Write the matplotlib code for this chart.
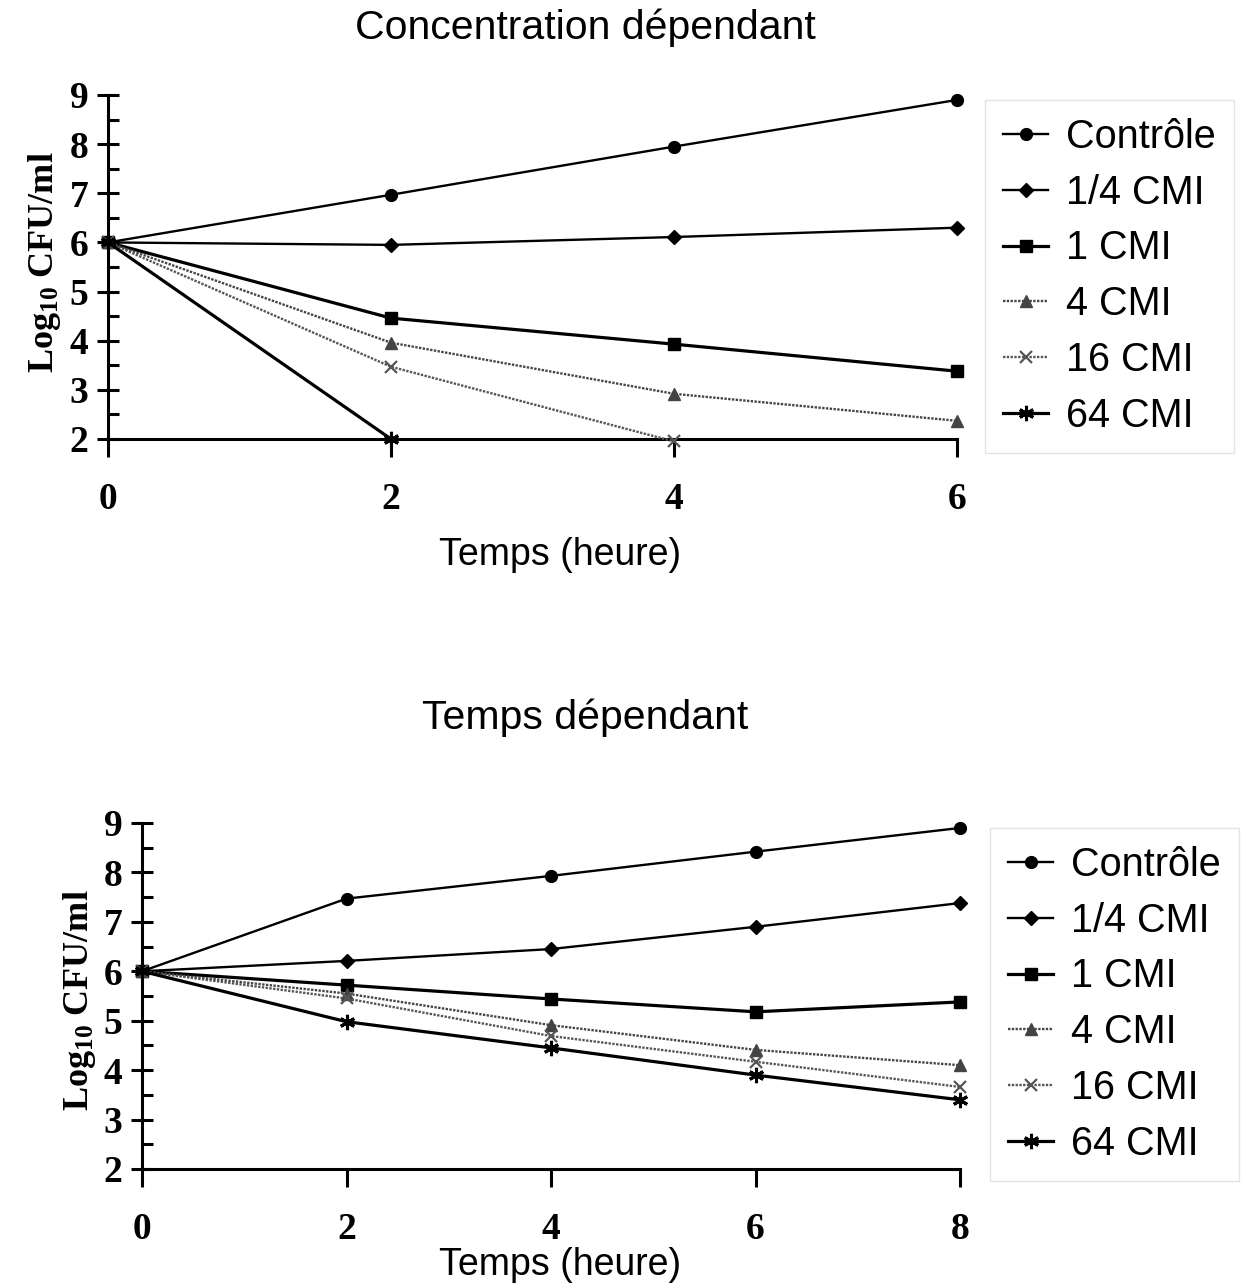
import numpy as np
import matplotlib.pyplot as plt

plt.rcParams['mathtext.default'] = 'regular'

labels = ["Contrôle", "1/4 CMI", "1 CMI", "4 CMI", "16 CMI", "64 CMI"]

# concentration dependant
t_conc = [0, 2, 4, 6]
conc_ctrl = [6.0, 6.97, 7.95, 8.9]
conc_q = [6.0, 5.95, 6.11, 6.3]
conc_1 = [6.0, 4.46, 3.93, 3.38]
conc_4 = [6.0, 3.96, 2.92, 2.37]
conc_16 = [6.0, 3.47, 1.95]
conc_64 = [6.0, 2.0]

# temps dependant
t_time = [0, 2, 4, 6, 8]
time_ctrl = [6.0, 7.47, 7.93, 8.42, 8.9]
time_q = [6.0, 6.21, 6.45, 6.9, 7.38]
time_1 = [6.0, 5.72, 5.44, 5.18, 5.38]
time_4 = [6.0, 5.55, 4.91, 4.41, 4.1]
time_16 = [6.0, 5.45, 4.69, 4.17, 3.66]
time_64 = [6.0, 4.98, 4.45, 3.9, 3.4]

styles = [
    dict(marker='o', ms=8.5, color='black', lw=1.7, ls='-'),
    dict(marker='D', ms=7, color='black', lw=1.7, ls='-'),
    dict(marker='s', ms=9, color='black', lw=2.3, ls='-'),
    dict(marker='^', ms=8, color='#444444', lw=1.7, ls=(0, (1, 0.6))),
    dict(marker='x', ms=9, color='#555555', lw=1.7, ls=(0, (1, 0.6)), mew=1.6),
    dict(marker=(6, 2, 0), ms=11, color='black', lw=2.3, ls='-', mew=2.2),
]

serif = 'Liberation Serif'
sans = 'Liberation Sans'

fig = plt.figure(figsize=(12.48, 12.85), dpi=100)


def setup(ax, xmax, xticks):
    ax.set_xlim(0, xmax)
    ax.set_ylim(2, 9)
    for s in ['top', 'right']:
        ax.spines[s].set_visible(False)
    for s in ['left', 'bottom']:
        ax.spines[s].set_linewidth(2.2)
    ax.set_xticks(xticks)
    ax.set_yticks(range(2, 10))
    ax.set_yticks(np.arange(2.5, 9, 1.0), minor=True)
    ax.tick_params(axis='y', which='major', direction='inout', length=16, width=2.2, pad=6)
    ax.tick_params(axis='y', which='minor', direction='in', length=8, width=2.2)
    ax.tick_params(axis='x', which='major', direction='out', length=13, width=2.2, pad=18)
    for lab in ax.get_xticklabels() + ax.get_yticklabels():
        lab.set_fontfamily(serif)
        lab.set_fontweight('bold')
        lab.set_fontsize(27)
    ax.set_facecolor('none')


def draw(ax, t, series):
    for vals, st, lab in zip(series, styles, labels):
        ax.plot(t[:len(vals)], vals, label=lab, clip_on=False, zorder=3, **st)


leg_kw = dict(loc='upper left', bbox_transform=fig.transFigure, prop={'family': sans, 'size': 28.5},
              frameon=True, fancybox=False, edgecolor='#dddddd', handlelength=1.15,
              handletextpad=0.45, labelspacing=0.45, borderpad=0.45, borderaxespad=0)

# top chart
ax1 = fig.add_axes([108 / 1248, 1 - 439 / 1285, (957 - 108) / 1248, (439 - 95) / 1285])
draw(ax1, t_conc, [conc_ctrl, conc_q, conc_1, conc_4, conc_16, conc_64])
setup(ax1, 6, [0, 2, 4, 6])
fig.text(585 / 1248, 1 - 28 / 1285, "Concentration dépendant", ha='center', va='center',
         family=sans, fontsize=29.5)
fig.text(560 / 1248, 1 - 555 / 1285, "Temps (heure)", ha='center', va='center',
         family=sans, fontsize=27)
fig.text(45 / 1248, 1 - 262 / 1285, "Log$_{10}$ CFU/ml", rotation=90, ha='center', va='center',
         family=serif, fontweight='bold', fontsize=26)
ax1.legend(bbox_to_anchor=(985 / 1248, 1 - 100 / 1285), **leg_kw)

# bottom chart
ax2 = fig.add_axes([142 / 1248, 1 - 1169 / 1285, (960 - 142) / 1248, (1169 - 823) / 1285])
draw(ax2, t_time, [time_ctrl, time_q, time_1, time_4, time_16, time_64])
setup(ax2, 8, [0, 2, 4, 6, 8])
fig.text(585 / 1248, 1 - 718 / 1285, "Temps dépendant", ha='center', va='center',
         family=sans, fontsize=29.5)
fig.text(560 / 1248, 1 - 1265 / 1285, "Temps (heure)", ha='center', va='center',
         family=sans, fontsize=27)
fig.text(80 / 1248, 1 - 1000 / 1285, "Log$_{10}$ CFU/ml", rotation=90, ha='center', va='center',
         family=serif, fontweight='bold', fontsize=26)
ax2.legend(bbox_to_anchor=(990 / 1248, 1 - 828 / 1285), **leg_kw)

fig.savefig("out.png", dpi=100)
plt.close(fig)
